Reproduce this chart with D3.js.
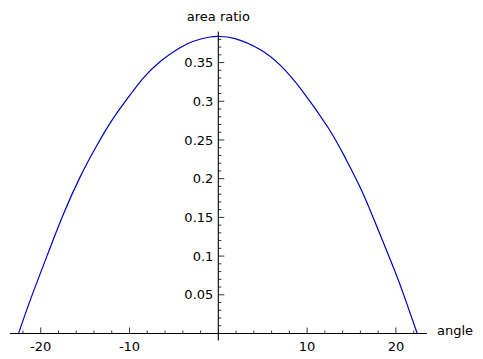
<!DOCTYPE html>
<html><head><meta charset="utf-8">
<script src="https://cdn.jsdelivr.net/npm/d3@7"></script>
<style>html,body{margin:0;padding:0;background:#fff;}svg{display:block;font-family:"DejaVu Sans",sans-serif;}</style>
</head><body>
<svg id="c" width="483" height="359"></svg>
<script>
const angles = [-22.5,-21.2,-19.3,-17.45,-15.57,-13.7,-11.8,-9.75,-8.45,-6.57,-4.32,-2.8,-0.93,0.1,1.88,4.69,6.94,9.39,12.39,14.27,16.15,18.0,19.9,21.0,22.4];
const ratios = [0,0.0425,0.100,0.154,0.202,0.2425,0.2785,0.311,0.330,0.351,0.369,0.3775,0.383,0.3837,0.381,0.367,0.347,0.3145,0.2655,0.2275,0.1845,0.134,0.080,0.046,0];
const xTickLabels = [-20,-10,10,20];
const yTickLabels = [0.05,0.1,0.15,0.2,0.25,0.3,0.35];
const xLabel = "angle", yLabel = "area ratio";

const svg = d3.select("#c");
const x = d3.scaleLinear().domain([-23.46, 23.5]).range([10, 427]);
const y = d3.scaleLinear().domain([0, 0.39]).range([333.5, 31.6]);
const x0 = x(0), y0 = y(0);

const g = svg.append("g");
// axis lines
g.append("line").attr("x1", x.range()[0]).attr("x2", x.range()[1]).attr("y1", y0).attr("y2", y0).attr("stroke", "#000").attr("stroke-width", 1.1);
g.append("line").attr("x1", x0).attr("x2", x0).attr("y1", y.range()[1]).attr("y2", y0 + 7).attr("stroke", "#000").attr("stroke-width", 1.1);

// x ticks
const xMinor = d3.range(-22, 23, 2).filter(v => v % 10 !== 0);
g.selectAll(".xmin").data(xMinor).join("line").attr("x1", d => x(d)).attr("x2", d => x(d)).attr("y1", y0).attr("y2", y0 - 3).attr("stroke", "#000").attr("stroke-width", 0.8);
g.selectAll(".xmaj").data(xTickLabels).join("line").attr("x1", d => x(d)).attr("x2", d => x(d)).attr("y1", y0).attr("y2", y0 - 6).attr("stroke", "#000").attr("stroke-width", 0.8);
g.selectAll(".xl").data(xTickLabels).join("text").attr("x", d => x(d)).attr("y", y0 + 17).attr("text-anchor", "middle").attr("font-size", 13).attr("fill", "#000").text(d => d);

// y ticks
const yMinor = d3.range(1, 39).map(v => v / 100).filter(v => Math.round(v * 100) % 5 !== 0);
g.selectAll(".ymin").data(yMinor).join("line").attr("x1", x0).attr("x2", x0 + 3).attr("y1", d => y(d)).attr("y2", d => y(d)).attr("stroke", "#000").attr("stroke-width", 0.8);
g.selectAll(".ymaj").data(yTickLabels).join("line").attr("x1", x0).attr("x2", x0 + 6).attr("y1", d => y(d)).attr("y2", d => y(d)).attr("stroke", "#000").attr("stroke-width", 0.8);
g.selectAll(".yl").data(yTickLabels).join("text").attr("x", x0 - 5).attr("y", d => y(d)).attr("dy", "0.35em").attr("text-anchor", "end").attr("font-size", 13).attr("fill", "#000").text(d => d);

// axis labels
svg.append("text").attr("x", x0).attr("y", 21).attr("text-anchor", "middle").attr("font-size", 13).text(yLabel);
svg.append("text").attr("x", 437).attr("y", y0 + 1).attr("font-size", 13).text(xLabel);

// curve
const pts = angles.map((a, i) => [a, ratios[i]]);
svg.append("path").datum(pts)
  .attr("d", d3.line().x(d => x(d[0])).y(d => y(d[1])).curve(d3.curveNatural))
  .attr("fill", "none").attr("stroke", "#0000bb").attr("stroke-width", 1.2);
</script>
</body></html>
